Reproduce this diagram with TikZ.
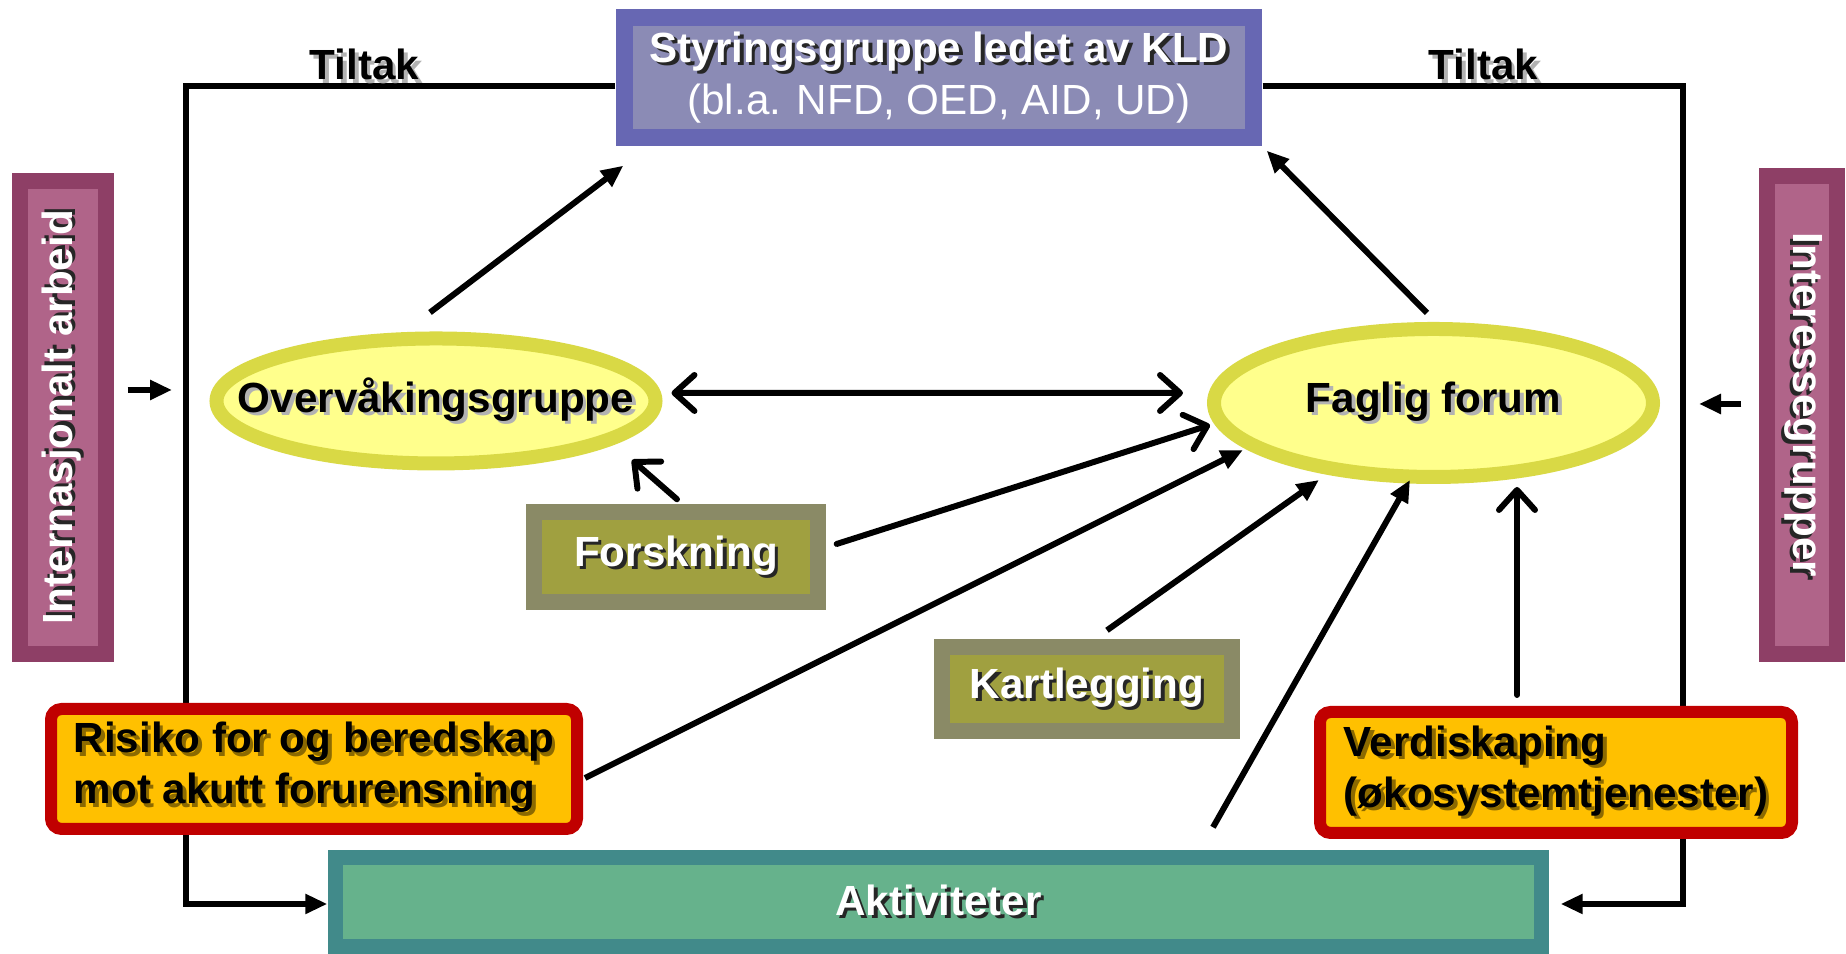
\documentclass[tikz,border=0pt]{standalone}
\usepackage{fontspec}
\setmainfont{Liberation Sans}
\usetikzlibrary{arrows.meta,positioning,calc,backgrounds,shapes.geometric}
\definecolor{styrout}{RGB}{103,103,179}
\definecolor{styrin}{RGB}{139,139,181}
\definecolor{rosaout}{RGB}{142,63,102}
\definecolor{rosain}{RGB}{176,100,137}
\definecolor{olivout}{RGB}{138,138,102}
\definecolor{olivin}{RGB}{160,160,64}
\definecolor{ellring}{RGB}{217,217,69}
\definecolor{ellfill}{RGB}{255,255,140}
\definecolor{rodkant}{RGB}{192,0,0}
\definecolor{gulfill}{RGB}{255,192,0}
\definecolor{aktout}{RGB}{65,138,138}
\definecolor{aktin}{RGB}{102,178,140}
% text with a small drop shadow
\newcommand{\shd}[2][black!85]{\leavevmode\rlap{\kern1pt\raisebox{-1pt}{\textcolor{#1}{#2}}}#2}

\begin{document}
\begin{tikzpicture}[
  font=\fontsize{12}{14.5}\selectfont\bfseries,
  twotone/.style n args={3}{fill=#1,inner sep=0pt,
    path picture={\fill[#2] ([shift={(#3,#3)}]path picture bounding box.south west)
      rectangle ([shift={(-#3,-#3)}]path picture bounding box.north east);}},
  styrbox/.style={twotone={styrout}{styrin}{0.17},text=white,align=center,
                  minimum width=6.46cm,minimum height=1.37cm},
  rosabox/.style={twotone={rosaout}{rosain}{0.16},text=white},
  olivbox/.style={twotone={olivout}{olivin}{0.16},text=white},
  gruppe/.style={ellipse,draw=ellring,line width=0.14cm,fill=ellfill,inner sep=0pt},
  tema/.style={draw=rodkant,line width=0.12cm,fill=gulfill,rounded corners=3pt,
               align=left,inner sep=0pt},
  ln/.style={line width=1.5pt,black},
  arr/.style={line width=1.7pt,-{Triangle[length=2.2mm,width=1.9mm]}},
  elb/.style={ln,-{Triangle[length=2.2mm,width=1.9mm]}},
  varr/.style={line width=1.7pt,line cap=round,-{Straight Barb[length=2mm,width=3.6mm,round]}},
  darr/.style={line width=1.7pt,line cap=round,
               {Straight Barb[length=2mm,width=3.6mm,round]}-{Straight Barb[length=2mm,width=3.6mm,round]}},
  tiltak/.style={anchor=base,yshift=1.8pt,inner sep=0pt},
  ]
  \useasboundingbox (0,0) rectangle (18.46,9.54);

  \node[styrbox] (styr) at (9.39,8.765)
    {\shd{Styringsgruppe ledet av KLD}\\[0.5pt]{\mdseries (bl.a. NFD, OED, AID, UD)}};
  \node[rosabox,minimum width=1.02cm,minimum height=4.89cm] (intl) at (0.63,5.365)
    {\rotatebox{90}{\shd{Internasjonalt arbeid}}};
  \node[rosabox,minimum width=0.86cm,minimum height=4.94cm] (inter) at (18.02,5.39)
    {\rotatebox{-90}{\shd{Interessegrupper}\kern0.2cm}};

  \node[gruppe,minimum width=4.39cm,minimum height=1.25cm,
        label={center:\shd[black!30]{Overvåkingsgruppe}}] (overv) at (4.36,5.53) {};
  \node[gruppe,minimum width=4.39cm,minimum height=1.48cm,
        label={center:\shd[black!30]{Faglig forum}}] (faglig) at (14.335,5.51) {};

  \node[olivbox,minimum width=3.00cm,minimum height=1.06cm] (forsk) at (6.76,3.97) {\shd{Forskning}};
  \node[olivbox,minimum width=3.06cm,minimum height=1.00cm] (kartl) at (10.87,2.65) {\shd{Kartlegging}};

  \node[tema,minimum width=5.26cm,minimum height=1.20cm] (risiko) at (3.14,1.85)
    {\shd[black!45!gulfill]{Risiko for og beredskap}\\\shd[black!45!gulfill]{mot akutt forurensning}};
  \node[tema,minimum width=4.72cm,minimum height=1.21cm] (verdi) at (15.56,1.815)
    {\shd[black!45!gulfill]{Verdiskaping}\\\shd[black!45!gulfill]{(økosystemtjenester)}};

  \node[twotone={aktout}{aktin}{0.15},text=white,minimum width=12.21cm,minimum height=1.04cm]
    (akt) at (9.385,0.52) {\shd{Aktiviteter}};

  % frame round the diagram
  \coordinate (tl) at (1.86,8.68);
  \coordinate (bl) at (1.86,0.50);
  \coordinate (tr) at (16.83,8.68);
  \coordinate (br) at (16.83,0.50);
  \begin{scope}[on background layer]
    \draw[elb] (styr.west |- tl) -- node[tiltak,pos=0.584] {\shd[black!30]{Tiltak}} (tl)
      -- (bl) -- (akt.west |- bl);
    \draw[elb] (styr.east |- tr) -- node[tiltak,pos=0.525] {\shd[black!30]{Tiltak}} (tr)
      -- (br) -- ([xshift=0.11cm]akt.east |- br);
  \end{scope}

  \draw[arr] ([shift={(0.13,0.275)}]intl.east) -- ($(tl |- intl.east)+(-0.14,0.275)$);
  \draw[arr] ([shift={(-0.17,0.11)}]inter.west) -- ($(tr |- inter.west)+(0.16,0.11)$);

  \draw[arr]  ([shift={(-0.06,0.19)}]overv.north) -- ([shift={(0.08,-0.19)}]styr.south west);
  \draw[arr]  ([shift={(-0.065,0.09)}]faglig.north) -- ([shift={(0.04,-0.04)}]styr.south east);
  \draw[darr] ([shift={(0.09,0.08)}]overv.east) -- ([shift={(-0.24,0.10)}]faglig.west);
  \draw[varr] ([shift={(0.01,0.04)}]forsk.north) -- ([shift={(1.96,-0.59)}]overv.center);
  \draw[varr] ([shift={(0.10,0.13)}]forsk.east) -- ([shift={(-2.235,-0.22)}]faglig.center);
  \draw[arr]  ([shift={(0.02,-0.09)}]risiko.east) -- ([shift={(-1.905,-0.47)}]faglig.center);
  \draw[arr]  ([shift={(0.20,0.08)}]kartl.north) -- ([shift={(-1.145,-0.77)}]faglig.center);
  \draw[arr]  ([shift={(2.745,0.22)}]akt.north) -- ([shift={(-0.235,-0.77)}]faglig.center);
  \draw[varr] ([shift={(-0.39,0.11)}]verdi.north) -- ([shift={(0.835,-0.84)}]faglig.center);
\end{tikzpicture}
\end{document}
